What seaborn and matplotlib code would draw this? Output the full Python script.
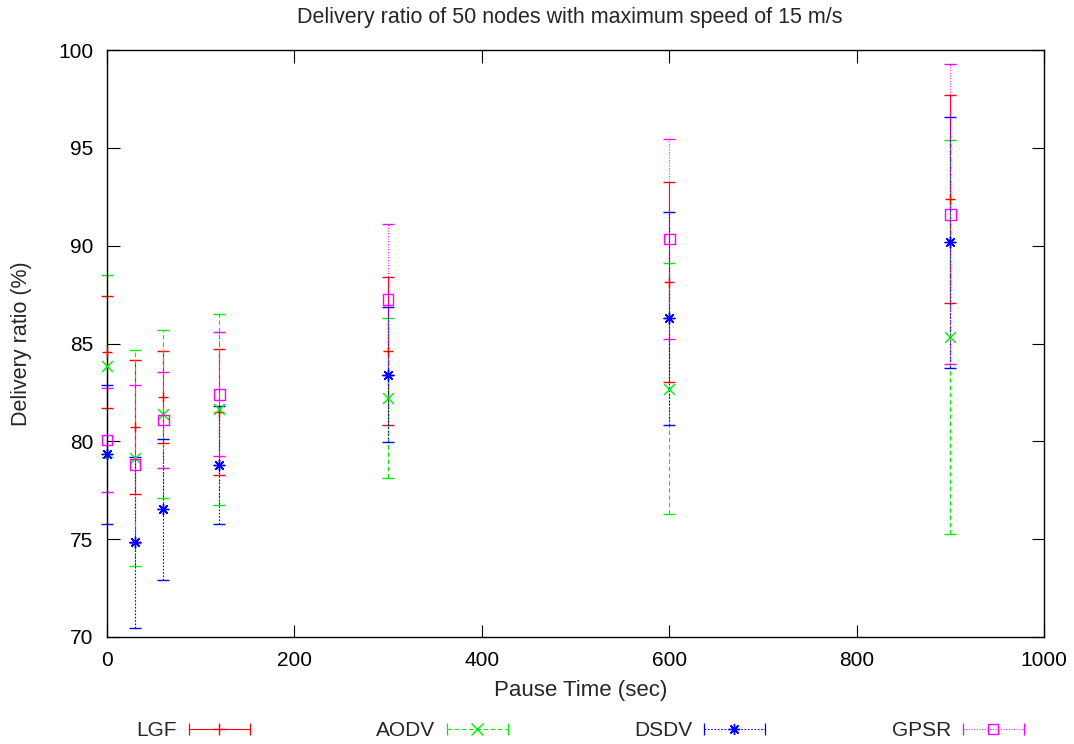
import numpy as np
import pandas as pd
import matplotlib
matplotlib.use("Agg")
import matplotlib.pyplot as plt
from matplotlib.lines import Line2D
from matplotlib.legend_handler import HandlerLine2D, HandlerTuple
import seaborn as sns

# ── data ──────────────────────────────────────────────────────────────────
pause = [0, 30, 60, 120, 300, 600, 900]

lgf_mean = [84.57, 80.73, 82.25, 81.50, 84.62, 88.13, 92.39]
lgf_err = [2.85, 3.42, 2.35, 3.20, 3.77, 5.12, 5.33]

aodv_mean = [83.85, 79.15, 81.38, 81.64, 82.22, 82.70, 85.32]
aodv_err = [4.65, 5.50, 4.30, 4.88, 4.07, 6.40, 10.06]

dsdv_mean = [79.34, 74.83, 76.53, 78.79, 83.41, 86.28, 90.17]
dsdv_err = [3.55, 4.38, 3.60, 3.04, 3.45, 5.42, 6.40]

gpsr_mean = [80.07, 78.83, 81.09, 82.41, 87.26, 90.34, 91.60]
gpsr_err = [2.64, 4.04, 2.43, 3.17, 3.85, 5.13, 7.67]

protocols = ["LGF", "AODV", "DSDV", "GPSR"]
means = [lgf_mean, aodv_mean, dsdv_mean, gpsr_mean]
errs = [lgf_err, aodv_err, dsdv_err, gpsr_err]

# ── style ──────────────────────────────────────────────────────────────────
colors = ["#ff0000", "#00ee00", "#0000ff", "#ff00ff"]
markers = ["+", "x", (8, 2, 0), "s"]
dashes = ["-", (0, (4, 2.5)), (0, (1.5, 1.5)), (0, (0.8, 1.6))]

sns.set_theme(style="ticks")
plt.rcParams["font.family"] = ["Liberation Sans", "DejaVu Sans"]
FS = 15
FS_LAB = 15.5

fig = plt.figure(figsize=(10.74, 7.44), dpi=100)
ax = fig.add_axes([107 / 1074, 107 / 744, 937 / 1074, 587 / 744])

handles = []
for name, m, e, c, mk, ls in zip(protocols, means, errs, colors, markers, dashes):
    df = pd.DataFrame({"pause": pause, "ratio": m})
    eb = ax.errorbar(df["pause"], df["ratio"], yerr=e, fmt="none", ecolor=c,
                     elinewidth=0.8, capsize=4.5, capthick=1.0, zorder=2,
                     clip_on=False)
    for lc in eb[2]:
        lc.set_linestyle(ls)
    for cl in eb[1]:
        cl.set_clip_on(False)
    if mk == "s":
        sns.scatterplot(data=df, x="pause", y="ratio", marker="s", s=60,
                        facecolors="none", edgecolor=c, linewidth=1.0,
                        ax=ax, zorder=3, legend=False, clip_on=False)
    else:
        sns.scatterplot(data=df, x="pause", y="ratio", marker=mk, s=60,
                        color=c, linewidth=1.0, ax=ax, zorder=3, legend=False,
                        clip_on=False)
    cap_line = Line2D([], [], color=c, linestyle=ls, linewidth=0.8,
                      marker="|", markersize=9, markeredgewidth=0.9)
    if mk == "s":
        mid = Line2D([], [], linestyle="none", marker="s", markersize=7,
                     markerfacecolor="none", markeredgecolor=c, markeredgewidth=1.0)
    else:
        mid = Line2D([], [], linestyle="none", marker=mk, markersize=8,
                     color=c, markeredgewidth=1.0)
    handles.append((cap_line, mid))

ax.set_xlim(0, 1000)
ax.set_ylim(70, 100)
ax.set_xticks(np.arange(0, 1001, 200))
ax.set_yticks(np.arange(70, 101, 5))
ax.tick_params(direction="in", length=9, width=0.8, labelsize=FS, pad=10,
               top=True, right=True, colors="black")
for sp in ax.spines.values():
    sp.set_visible(True)
    sp.set_color("black")
    sp.set_linewidth(1.0)

ax.set_xlabel("Pause Time (sec)", fontsize=16)
ax.set_ylabel("Delivery ratio (%)", fontsize=FS_LAB)
ax.xaxis.set_label_coords(0.506, -0.0733)
ax.yaxis.set_label_coords(-0.080, 0.5)
fig.text(570 / 1074, 1 - 18 / 744,
         "Delivery ratio of 50 nodes with maximum speed of 15 m/s",
         ha="center", va="center", fontsize=FS_LAB)

# gnuplot-like key: label then sample, four entries along the bottom
sample_right = [250, 508, 765, 1024]
for h, name, xr in zip(handles, protocols, sample_right):
    hm = {h[0]: HandlerLine2D(numpoints=2, marker_pad=0),
          h[1]: HandlerLine2D(numpoints=1),
          tuple: HandlerTuple(ndivide=1, pad=0)}
    fig.legend([h], [name], loc="center right", bbox_to_anchor=(xr / 1074, 13 / 744),
               frameon=False, markerfirst=False, handlelength=2.93, handletextpad=0.58,
               borderpad=0, borderaxespad=0, fontsize=FS, handler_map=hm)

fig.savefig("out.png", dpi=100)
